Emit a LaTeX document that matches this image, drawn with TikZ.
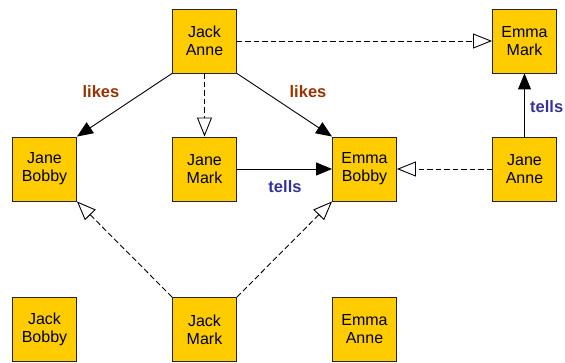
\documentclass[tikz,border=0pt]{standalone}
\usepackage{fontspec}
\setmainfont{Liberation Sans}
\usetikzlibrary{arrows.meta}
\definecolor{boxfill}{HTML}{FFCC00}
\definecolor{likescol}{HTML}{993300}
\definecolor{tellscol}{HTML}{333399}
\tikzset{
  person/.style={draw=black!85, line width=0.9pt, fill=boxfill, minimum size=64pt, inner sep=0pt,
    align=center, font=\fontsize{16}{18}\selectfont},
  rel/.style={draw=black, line width=0.9pt, -{Triangle[length=16pt,width=13pt]}},
  inherit/.style={draw=black, line width=0.9pt, dash pattern=on 5.5pt off 3pt,
    -{Triangle[open,length=19pt,width=15pt,fill=white,line width=0.9pt]}},
  likeslbl/.style={text=likescol, font=\fontsize{16.5}{18}\selectfont\bfseries},
  tellslbl/.style={text=tellscol, font=\fontsize{16.5}{18}\selectfont\bfseries},
}
\begin{document}
\begin{tikzpicture}[x=1pt,y=-1pt]
  \useasboundingbox (0,0) rectangle (565,363);
  % people
  \node[person] (ja)  at (204.5,41)    {Jack\\Anne};
  \node[person] (em)  at (524.5,41)    {Emma\\Mark};
  \node[person] (jb)  at (44.5,169)    {Jane\\Bobby};
  \node[person] (jm)  at (204.5,169)   {Jane\\Mark};
  \node[person] (eb)  at (364.5,169)   {Emma\\Bobby};
  \node[person] (jan) at (524.5,169)   {Jane\\Anne};
  \node[person] (jbk) at (44.5,329.5)  {Jack\\Bobby};
  \node[person] (jmk) at (204.5,329.5) {Jack\\Mark};
  \node[person] (ea)  at (364.5,329.5) {Emma\\Anne};
  % relations
  \draw[rel] (ja.south west) -- (jb.north east);
  \draw[rel] (ja.south east) -- (eb.north west);
  \draw[rel] (jm) -- (eb);
  \draw[rel] (jan) -- (em);
  \draw[inherit] (ja) -- (jm);
  \draw[inherit] (ja) -- (em);
  \draw[inherit] (jan) -- (eb);
  \draw[inherit] (jmk.north west) -- (jb.south east);
  \draw[inherit] (jmk.north east) -- (eb.south west);
  % labels
  \node[likeslbl] (l1) at (101,92) {likes};
  \node[likeslbl] (l2) at (308,92) {likes};
  \node[tellslbl] (t1) at (285,187) {tells};
  \node[tellslbl, anchor=west, inner sep=0pt] (t2) at (530,107) {tells};
\end{tikzpicture}
\end{document}
